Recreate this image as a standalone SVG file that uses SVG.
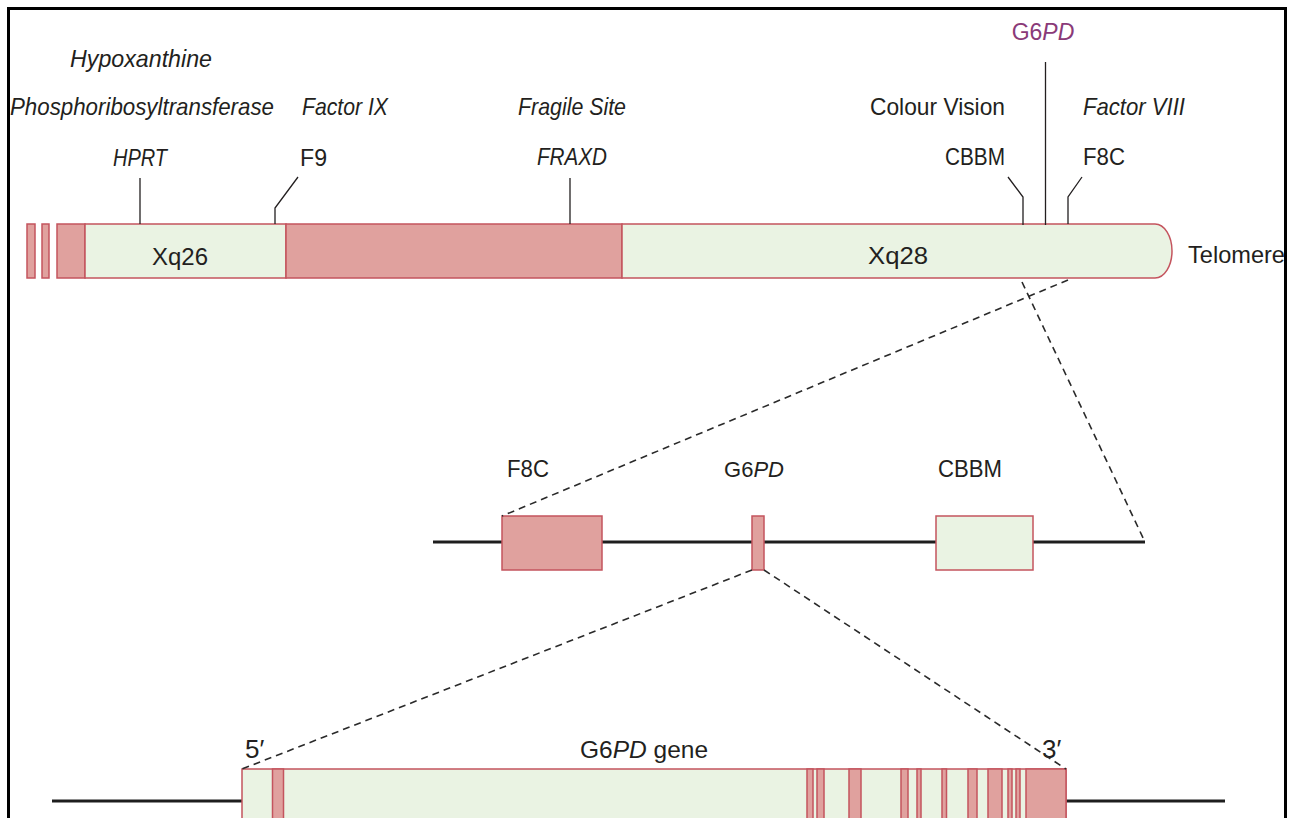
<svg xmlns="http://www.w3.org/2000/svg" width="1298" height="818" viewBox="0 0 1298 818">
<style>
.t{font-family:"Liberation Sans",Arial,sans-serif;font-size:24px;fill:#231f20}
.i{font-style:italic}
.p{fill:#8a3a78}
.lt{fill:#eaf3e3;stroke:#c4545e;stroke-width:1.5}
.dk{fill:#e0a19e;stroke:#c4545e;stroke-width:1.5}
.ld{fill:none;stroke:#231f20;stroke-width:1.3}
.ds{fill:none;stroke:#2a2a2a;stroke-width:1.6;stroke-dasharray:7 5}
.dna{stroke:#1e1e1e;stroke-width:3}
</style>
<rect x="0" y="0" width="1298" height="818" fill="#fff"/>
<rect x="8.5" y="8.5" width="1277" height="840" fill="none" stroke="#000" stroke-width="3"/>

<g id="chromosome">
<rect class="dk" x="27" y="224" width="8" height="54"/>
<rect class="dk" x="42" y="224" width="7" height="54"/>
<rect class="dk" x="57" y="224" width="28" height="54"/>
<rect class="lt" x="85" y="224" width="201" height="54"/>
<rect class="dk" x="286" y="224" width="336" height="54"/>
<path class="lt" d="M622,224 H1155 A17,27 0 0 1 1155,278 H622 Z"/>
<text class="t" x="180" y="265" text-anchor="middle" textLength="56" lengthAdjust="spacingAndGlyphs">Xq26</text>
<text class="t" x="898" y="264" text-anchor="middle" textLength="60" lengthAdjust="spacingAndGlyphs">Xq28</text>
<text class="t" x="1188" y="263" textLength="97" lengthAdjust="spacingAndGlyphs">Telomere</text>
</g>

<g id="label-hprt">
<text class="t i" x="141" y="67" text-anchor="middle" textLength="142" lengthAdjust="spacingAndGlyphs">Hypoxanthine</text>
<text class="t i" x="142" y="115" text-anchor="middle" textLength="264" lengthAdjust="spacingAndGlyphs">Phosphoribosyltransferase</text>
<text class="t i" x="140" y="166" text-anchor="middle" textLength="54" lengthAdjust="spacingAndGlyphs">HPRT</text>
<path class="ld" d="M140,178 V224"/>
</g>
<g id="label-f9">
<text class="t i" x="302" y="115" textLength="86" lengthAdjust="spacingAndGlyphs">Factor IX</text>
<text class="t" x="300" y="166" textLength="27" lengthAdjust="spacingAndGlyphs">F9</text>
<path class="ld" d="M298,177 L275,208 V224"/>
</g>
<g id="label-fraxd">
<text class="t i" x="572" y="115" text-anchor="middle" textLength="108" lengthAdjust="spacingAndGlyphs">Fragile Site</text>
<text class="t i" x="572" y="165" text-anchor="middle" textLength="70" lengthAdjust="spacingAndGlyphs">FRAXD</text>
<path class="ld" d="M570,178 V224"/>
</g>
<g id="label-g6pd">
<text class="t p" x="1043" y="40" text-anchor="middle" style="font-size:23px">G6<tspan class="i">PD</tspan></text>
<path class="ld" d="M1045.5,62 V225"/>
</g>
<g id="label-cbbm">
<text class="t" x="1005" y="115" text-anchor="end" textLength="135" lengthAdjust="spacingAndGlyphs">Colour Vision</text>
<text class="t" x="1005" y="165" text-anchor="end" textLength="60" lengthAdjust="spacingAndGlyphs">CBBM</text>
<path class="ld" d="M1008,177 L1023,197 V225"/>
</g>
<g id="label-f8c">
<text class="t i" x="1083" y="115" textLength="102" lengthAdjust="spacingAndGlyphs">Factor VIII</text>
<text class="t" x="1083" y="165" textLength="42" lengthAdjust="spacingAndGlyphs">F8C</text>
<path class="ld" d="M1082,177 L1068,197 V224"/>
</g>

<g id="region">
<line class="dna" x1="433" y1="542" x2="1145" y2="542"/>
<rect class="dk" x="502" y="516" width="100" height="54"/>
<rect class="dk" x="752" y="516" width="12" height="54"/>
<rect class="lt" x="936" y="516" width="97" height="54"/>
<text class="t" x="507" y="477" textLength="42" lengthAdjust="spacingAndGlyphs">F8C</text>
<text class="t" x="754" y="477" text-anchor="middle" style="font-size:22px">G6<tspan class="i">PD</tspan></text>
<text class="t" x="938" y="477" textLength="64" lengthAdjust="spacingAndGlyphs">CBBM</text>
</g>

<g id="gene">
<line class="dna" x1="52" y1="801" x2="242" y2="801"/>
<line class="dna" x1="1066" y1="801" x2="1225" y2="801"/>
<rect class="lt" x="242" y="769" width="824" height="70"/>
<rect class="dk" x="272.5" y="769" width="11" height="70"/>
<rect class="dk" x="807" y="769" width="6" height="70"/>
<rect class="dk" x="817" y="769" width="7" height="70"/>
<rect class="dk" x="849" y="769" width="12" height="70"/>
<rect class="dk" x="901" y="769" width="7" height="70"/>
<rect class="dk" x="917" y="769" width="4" height="70"/>
<rect class="dk" x="942" y="769" width="4.5" height="70"/>
<rect class="dk" x="968" y="769" width="9" height="70"/>
<rect class="dk" x="988" y="769" width="14" height="70"/>
<rect class="dk" x="1008" y="769" width="4" height="70"/>
<rect class="dk" x="1016" y="769" width="4" height="70"/>
<rect class="dk" x="1026" y="769" width="40" height="70"/>
<text class="t" x="245" y="758" style="font-size:26px">5′</text>
<text class="t" x="644" y="758" text-anchor="middle" style="font-size:24.5px">G6<tspan class="i">PD</tspan> gene</text>
<text class="t" x="1042" y="758" style="font-size:26px">3′</text>
</g>

<g id="connectors">
<line class="ds" x1="1068" y1="280" x2="502" y2="516"/>
<line class="ds" x1="1022" y1="282" x2="1145" y2="542"/>
<line class="ds" x1="752" y1="570" x2="242" y2="769"/>
<line class="ds" x1="764" y1="570" x2="1066" y2="769"/>
</g>
</svg>
